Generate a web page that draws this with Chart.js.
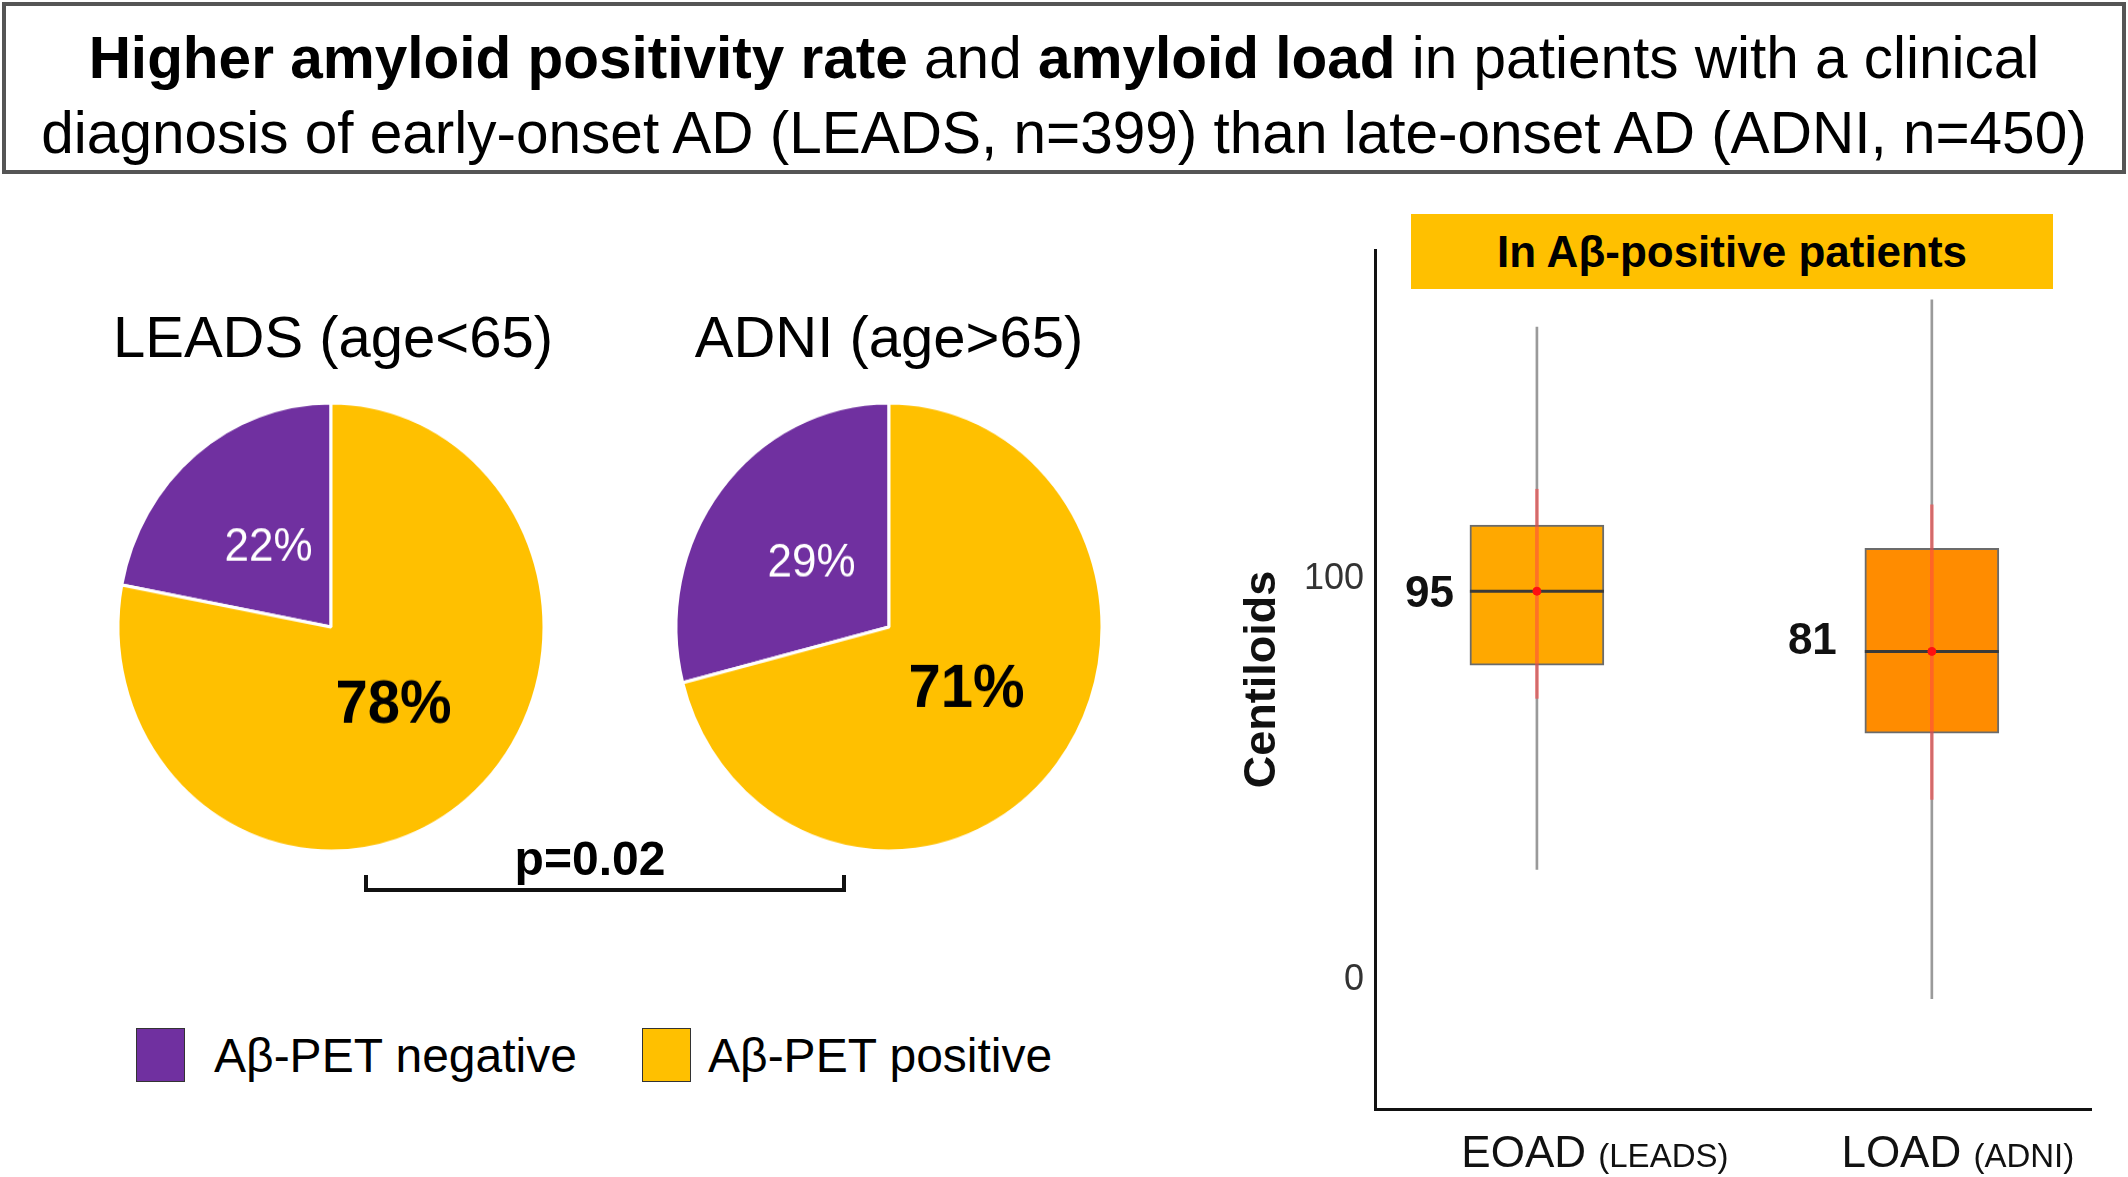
<!DOCTYPE html>
<html>
<head>
<meta charset="utf-8">
<script src="https://cdn.jsdelivr.net/npm/chart.js@4.4.1/dist/chart.umd.min.js"></script>
<style>
  body { margin: 0; width: 2128px; height: 1177px; background: #fff; position: relative; overflow: hidden;
         font-family: "Liberation Sans", Arial, sans-serif; color: #000; }
  .abs { position: absolute; }
  .c { position: absolute; transform: translate(-50%, -50%); line-height: 1; white-space: nowrap; }
  #title { left: 2px; top: 2px; width: 2124px; height: 172px; box-sizing: border-box; border: 4px solid #555;
           text-align: center; font-size: 58.5px; line-height: 75px; padding-top: 14px; white-space: nowrap; }
  .pie-wrap { position: absolute; width: 460px; height: 460px; transform: scaleY(1.052); }
  .sq { position: absolute; width: 47px; height: 52px; border: 1.5px solid #333; }
  .leg { position: absolute; font-size: 48px; line-height: 1; transform: translateY(-50%); white-space: nowrap; }
  #bracket { left: 364px; top: 875px; width: 482px; height: 17px; box-sizing: border-box;
             border: 4px solid #111; border-top: none; }
  #band { left: 1411px; top: 214px; width: 642px; height: 75px; background: #FFC000;
          font-weight: bold; font-size: 44px; line-height: 75px; text-align: center; }
</style>
</head>
<body>
<div id="title" class="abs"><b>Higher amyloid positivity rate</b> and <b>amyloid load</b> in patients with a clinical<br>diagnosis of early-onset AD (LEADS, n=399) than late-onset AD (ADNI, n=450)</div>

<div class="c" style="left:333px; top:337px; font-size:58px;">LEADS (age&lt;65)</div>
<div class="c" style="left:889px; top:337px; font-size:58px;">ADNI (age&gt;65)</div>

<div class="pie-wrap" style="left:101px; top:397px;"><canvas id="pie1" width="460" height="460"></canvas></div>
<div class="pie-wrap" style="left:659px; top:397px;"><canvas id="pie2" width="460" height="460"></canvas></div>

<div id="bracket" class="abs"></div>
<div class="c" style="left:590px; top:859px; font-size:48px; font-weight:bold;">p=0.02</div>

<div class="sq" style="left:136px; top:1028px; background:#7030A0;"></div>
<div class="leg" style="left:214px; top:1056px;">Aβ-PET negative</div>
<div class="sq" style="left:642px; top:1028px; background:#FFC000;"></div>
<div class="leg" style="left:708px; top:1056px;">Aβ-PET positive</div>

<canvas id="box" class="abs" style="left:1240px; top:200px;" width="888" height="977"></canvas>
<div id="band" class="abs">In Aβ-positive patients</div>

<script>
//Pie data: share of negative / positive scans
const pieLabels = ["Aβ-PET negative", "Aβ-PET positive"];
const leadsValues = [22, 78];
const adniValues = [29, 71];
const pieColors = ["#7030A0", "#FFC000"];

//Box plot data (centiloids, in Aβ-positive patients)
const groups = ["EOAD", "LOAD"];
const groupCohorts = ["(LEADS)", "(ADNI)"];
const whiskerLow = [27.7, -4.5];
const whiskerHigh = [162.8, 169.6];
const q1 = [78.6, 61.6];
const q3 = [113.5, 107.7];
const medians = [97, 82];
const sdLow = [70.3, 45.1];
const sdHigh = [122.4, 118.5];
const medianLabels = ["95", "81"];
const yTicks = [0, 100];
const boxColors = ["#FFA800", "#FF8C00"];

Chart.defaults.font.family = '"Liberation Sans", Arial, sans-serif';

//draw the percentages inside the slices
const sliceLabels = {
  id: "sliceLabels",
  afterDatasetsDraw(chart) {
    const ctx = chart.ctx;
    const arcs = chart.getDatasetMeta(0).data;
    const values = chart.data.datasets[0].data;
    arcs.forEach((arc, i) => {
      const mid = (arc.startAngle + arc.endAngle) / 2;
      const r = arc.outerRadius * 0.46;
      ctx.save();
      ctx.textAlign = "center";
      ctx.textBaseline = "middle";
      if (i === 0) {
        ctx.fillStyle = "#fff";
        ctx.font = '44px "Liberation Sans", Arial, sans-serif';
      } else {
        ctx.fillStyle = "#000";
        ctx.font = 'bold 58px "Liberation Sans", Arial, sans-serif';
      }
      ctx.fillText(values[i] + "%", arc.x + Math.cos(mid) * r, arc.y + Math.sin(mid) * r);
      ctx.restore();
    });
  },
};

const makePie = (id, values) =>
  new Chart(document.getElementById(id), {
    type: "pie",
    plugins: [sliceLabels],
    data: {
      labels: pieLabels,
      datasets: [{ data: values, backgroundColor: pieColors, borderColor: "#fff", borderWidth: 3 }],
    },
    options: {
      responsive: false,
      devicePixelRatio: 1,
      animation: false,
      radius: 213,
      //negative slice ends at 12 o'clock
      rotation: (-values[0] / 100) * 360,
      layout: { padding: 0 },
      plugins: { legend: { display: false }, tooltip: { enabled: false } },
    },
  });

makePie("pie1", leadsValues);
makePie("pie2", adniValues);

//labels next to boxes and under the x axis
const boxLabels = {
  id: "boxLabels",
  afterDatasetsDraw(chart) {
    const ctx = chart.ctx;
    const x = chart.scales.x;
    const y = chart.scales.y;
    ctx.save();
    ctx.fillStyle = "#111";
    ctx.textBaseline = "middle";
    groups.forEach((g, i) => {
      const px = x.getPixelForValue(i + 1);
      //median value, left of the box
      ctx.font = 'bold 44px "Liberation Sans", Arial, sans-serif';
      ctx.textAlign = "right";
      ctx.fillText(medianLabels[i], px - 67 - [16, 28][i], y.getPixelForValue(medians[i]) + [4, -10][i]);
      //category label with the cohort in small type
      ctx.textAlign = "left";
      ctx.font = '44px "Liberation Sans", Arial, sans-serif';
      const w1 = ctx.measureText(g + " ").width;
      ctx.font = '33px "Liberation Sans", Arial, sans-serif';
      const w2 = ctx.measureText(groupCohorts[i]).width;
      const start = px + [58, 26][i] - (w1 + w2) / 2;
      const ty = chart.chartArea.bottom + 46;
      ctx.font = '44px "Liberation Sans", Arial, sans-serif';
      ctx.fillText(g, start, ty);
      ctx.font = '33px "Liberation Sans", Arial, sans-serif';
      ctx.fillText(groupCohorts[i], start + w1, ty + 3);
    });
    ctx.restore();
  },
};

const xs = [1, 2];
const pairs = (lo, hi) => xs.map((v, i) => ({ x: v, y: [lo[i], hi[i]] }));
const points = (vals) => xs.map((v, i) => ({ x: v, y: vals[i] }));

new Chart(document.getElementById("box"), {
  type: "bar",
  plugins: [boxLabels],
  data: {
    datasets: [
      { label: "whisker", data: pairs(whiskerLow, whiskerHigh), backgroundColor: "#9a9a9a",
        barThickness: 2, grouped: false, order: 5 },
      { label: "box", data: pairs(q1, q3), backgroundColor: boxColors, borderColor: "#6b6b6b",
        borderWidth: 2, borderSkipped: false, barThickness: 134, grouped: false, order: 4 },
      { label: "sd", data: pairs(sdLow, sdHigh), backgroundColor: "rgba(255,70,70,0.55)",
        barThickness: 3, grouped: false, order: 3 },
      { type: "line", label: "median", data: points(medians), showLine: false, pointStyle: "line",
        pointRadius: 67, borderColor: "#3a3a3a", pointBorderWidth: 3, order: 2 },
      { type: "line", label: "dot", data: points(medians), showLine: false, pointStyle: "circle",
        pointRadius: 4, backgroundColor: "#ff1010", borderColor: "#ff1010", order: 1 },
    ],
  },
  options: {
    responsive: false,
    devicePixelRatio: 1,
    animation: false,
    layout: { autoPadding: false, padding: { top: 50, right: 37, left: 0, bottom: 0 } },
    plugins: { legend: { display: false }, tooltip: { enabled: false } },
    scales: {
      x: {
        type: "linear",
        offset: false,
        min: 0.59,
        max: 2.403,
        grid: { display: false },
        border: { display: true, color: "#111", width: 3 },
        ticks: { display: false },
        afterFit: (s) => { s.height = 68; },
      },
      y: {
        min: -32,
        max: 182,
        grid: { display: false },
        border: { display: true, color: "#111", width: 3 },
        ticks: { color: "#333", font: { size: 36 }, padding: 3 },
        afterBuildTicks: (s) => { s.ticks = yTicks.map((v) => ({ value: v })); },
        title: { display: true, text: "Centiloids", color: "#111", font: { size: 45, weight: "bold", lineHeight: 1 },
                 padding: { top: 0, bottom: 0 } },
        afterFit: (s) => { s.width = 135; },
      },
    },
  },
});
</script>
</body>
</html>
